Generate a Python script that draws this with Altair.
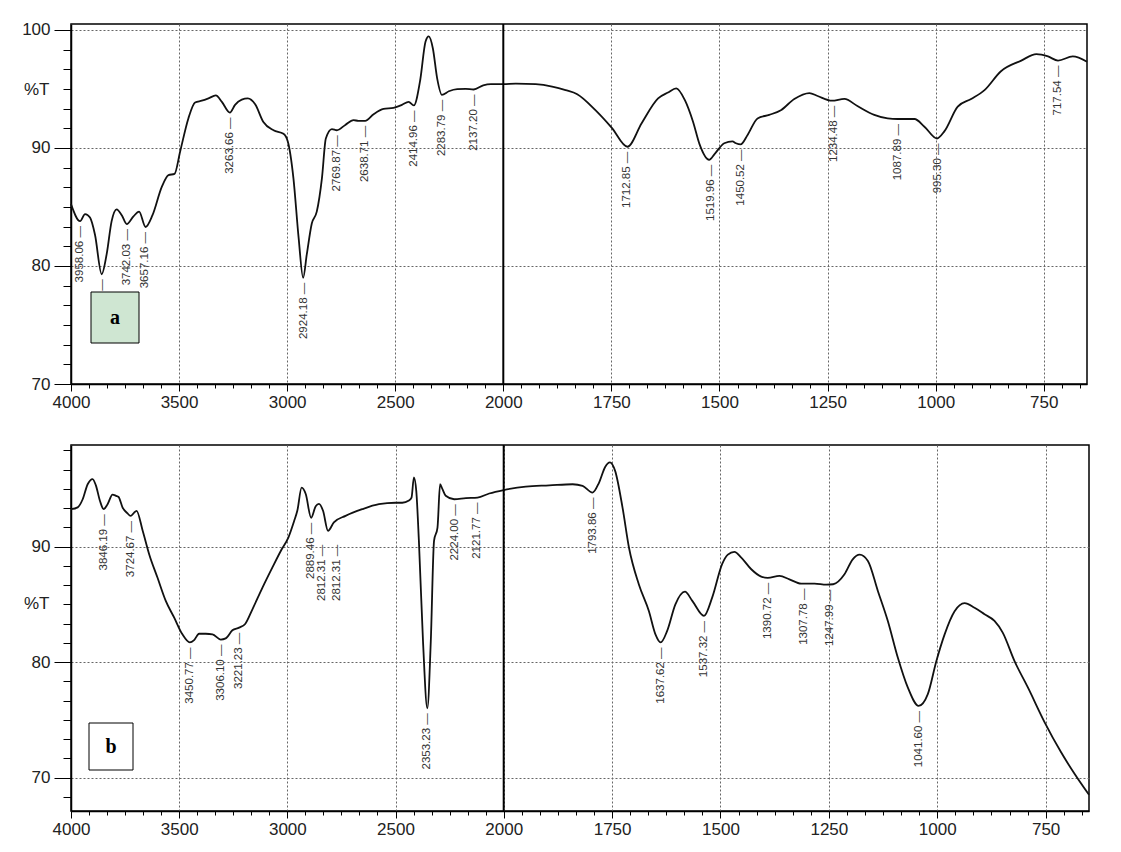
import altair as alt
import pandas as pd

# ---------------- data ----------------
top_wn = [4000, 3958, 3935, 3912, 3889, 3858, 3835, 3812, 3789, 3765, 3742, 3711, 3685, 3655,
          3623, 3580, 3549, 3521, 3495, 3457, 3426, 3395, 3364, 3330, 3302, 3265, 3241, 3210,
          3182, 3148, 3110, 3063, 3017, 2997, 2971, 2947, 2926, 2909, 2886, 2863, 2839, 2821,
          2793, 2770, 2731, 2693, 2670, 2639, 2600, 2554, 2508, 2469, 2438, 2414, 2384, 2360,
          2345, 2326, 2306, 2284, 2252, 2213, 2174, 2137, 2093, 2057, 2000, 1971, 1925, 1887,
          1856, 1829, 1787, 1749, 1713, 1680, 1642, 1619, 1600, 1580, 1561, 1546, 1524, 1511,
          1489, 1470, 1462, 1451, 1435, 1412, 1385, 1358, 1327, 1292, 1273, 1240, 1211, 1181,
          1142, 1111, 1088, 1049, 1026, 997, 980, 949, 918, 887, 849, 802, 767, 740, 717, 683, 650]
top_t = [85.25, 83.8, 84.4, 84.1, 82.65, 79.3, 81.0, 83.8, 84.8, 84.3, 83.55, 84.2, 84.6, 83.3,
         84.3, 86.7, 87.7, 87.8, 89.7, 92.5, 93.85, 94.0, 94.2, 94.45, 93.9, 93.0, 93.65, 94.1,
         94.2, 93.7, 92.2, 91.5, 91.2, 90.55, 87.45, 82.4, 79.0, 81.0, 83.6, 84.6, 87.45, 90.8,
         91.6, 91.5, 91.95, 92.35, 92.3, 92.3, 92.85, 93.3, 93.4, 93.65, 93.9, 93.6, 95.8, 99.0,
         99.45, 98.45, 95.9, 94.5, 94.8, 94.98, 95.0, 94.95, 95.3, 95.4, 95.4, 95.45, 95.4, 95.2,
         94.9, 94.55, 93.2, 91.7, 90.1, 92.1, 94.2, 94.7, 95.05, 94.05, 92.2, 90.3, 89.0, 89.5,
         90.4, 90.55, 90.4, 90.3, 91.1, 92.5, 92.8, 93.2, 94.15, 94.65, 94.4, 94.0, 94.15, 93.55,
         92.8, 92.5, 92.45, 92.45, 91.8, 90.8, 91.4, 93.5, 94.15, 94.9, 96.5, 97.4, 97.95, 97.75,
         97.4, 97.75, 97.3]

bot_wn = [4000, 3969, 3946, 3923, 3900, 3885, 3866, 3849, 3831, 3808, 3792, 3780, 3762, 3740,
          3724, 3710, 3697, 3669, 3638, 3600, 3562, 3523, 3485, 3451, 3431, 3408, 3377, 3346,
          3308, 3285, 3254, 3223, 3195, 3162, 3115, 3069, 3031, 2995, 2969, 2954, 2934, 2915,
          2890, 2869, 2854, 2835, 2812, 2785, 2731, 2654, 2577, 2500, 2469, 2438, 2426, 2415,
          2404, 2392, 2373, 2353, 2337, 2322, 2306, 2294, 2283, 2268, 2229, 2175, 2121, 2067,
          2000, 1949, 1895, 1841, 1818, 1795, 1780, 1766, 1755, 1743, 1726, 1711, 1688, 1665,
          1650, 1638, 1623, 1604, 1582, 1565, 1538, 1519, 1496, 1483, 1468, 1452, 1429, 1406,
          1391, 1364, 1341, 1314, 1283, 1256, 1240, 1214, 1195, 1179, 1160, 1137, 1114, 1091,
          1068, 1043, 1022, 1002, 983, 960, 937, 914, 891, 868, 849, 822, 791, 752, 714, 683, 650]
bot_t = [93.24, 93.4, 94.1, 95.4, 95.85, 95.3, 93.95, 93.24, 93.67, 94.5, 94.4, 94.3, 93.4, 92.9,
         92.66, 92.9, 93.1, 91.4, 89.3, 87.3, 85.3, 83.85, 82.4, 81.7, 81.9, 82.45, 82.45, 82.4,
         81.95, 82.05, 82.75, 82.98, 83.3, 84.55, 86.45, 88.2, 89.6, 90.8, 92.2, 93.1, 95.1, 94.55,
         92.5, 93.5, 93.7, 93.1, 91.36, 92.1, 92.66, 93.24, 93.67, 93.8, 93.8, 94.0, 94.25, 96.0,
         94.8, 90.5, 81.8, 76.0, 81.8, 90.5, 91.65, 95.4, 94.97, 94.4, 94.1, 94.2, 94.25, 94.6,
         94.9, 95.2, 95.3, 95.4, 95.26, 94.68, 95.55, 96.9, 97.3, 96.56, 93.4, 89.9, 86.7, 84.4,
         82.4, 81.7, 82.7, 85.0, 86.1, 85.3, 84.0, 85.6, 88.5, 89.3, 89.55, 89.05, 88.04, 87.4,
         87.3, 87.46, 87.17, 86.8, 86.8, 86.7, 86.74, 87.6, 88.9, 89.3, 88.76, 86.16, 83.56, 80.39,
         77.8, 76.2, 77.2, 80.1, 82.4, 84.4, 85.1, 84.7, 84.14, 83.56, 82.55, 80.1, 77.8, 74.76,
         72.16, 70.3, 68.5]

top_peak_text = ["3958.06", "", "3742.03", "3657.16", "3263.66", "2924.18", "2769.87", "2638.71",
                 "2414.96", "2283.79", "2137.20", "1712.85", "1519.96", "1450.52", "1234.48",
                 "1087.89", "995.30", "717.54"]
top_peak_wn = [3958.06, 3858, 3742.03, 3657.16, 3263.66, 2924.18, 2769.87, 2638.71,
               2414.96, 2283.79, 2137.20, 1712.85, 1519.96, 1450.52, 1234.48,
               1087.89, 995.30, 717.54]
top_peak_t = [83.8, 79.3, 83.55, 83.3, 93.0, 79.0, 91.5, 92.3,
              93.6, 94.5, 94.95, 90.1, 89.0, 90.3, 94.0,
              92.45, 90.8, 97.4]

bot_peak_text = ["3846.19", "3724.67", "3450.77", "3306.10", "3221.23", "2889.46", "2812.31",
                 "2812.31", "2353.23", "2224.00", "2121.77", "1793.86", "1637.62", "1537.32",
                 "1390.72", "1307.78", "1247.99", "1041.60"]
bot_peak_wn = [3846.19, 3724.67, 3450.77, 3306.10, 3221.23, 2889.46, 2838,
               2769, 2353.23, 2224.00, 2121.77, 1793.86, 1637.62, 1537.32,
               1390.72, 1307.78, 1247.99, 1041.60]
bot_peak_t = [93.24, 92.66, 81.7, 81.95, 82.98, 92.5, 90.6,
              90.6, 76.0, 94.1, 94.25, 94.68, 81.7, 84.0,
              87.3, 86.8, 86.7, 76.2]

x_major = [4000, 3500, 3000, 2500, 2000, 1750, 1500, 1250, 1000, 750]
top_y_major = [70, 80, 90, 100]
bot_y_major = [70, 80, 90]

# ---------------- helpers ----------------
FONT = "Liberation Sans"
x_ticks = [round(4000 - k * 500 / 6, 2) for k in range(0, 25)] + \
          [round(2000 - k * 250 / 6, 2) for k in range(1, 33)]
x_test = "indexof([" + ",".join(str(v) for v in x_major) + "], datum.value) >= 0"
y_test = "datum.value % 10 === 0"


def panel(wn, t, pk_text, pk_wn, pk_t, width, height, x2000, ydom, ykmin, ykmax,
          title_y, box_fill, letter, box):
    df = pd.DataFrame({"wn": wn, "T": t})
    pk = pd.DataFrame({"wn": pk_wn, "T": pk_t,
                       "label": [(s + " \u2014") if s else "\u2014" for s in pk_text]})
    one = pd.DataFrame({"v": [0]})

    xscale = alt.Scale(domain=[4000, 2000, 650], range=[0, x2000, width], nice=False, zero=False)
    yscale = alt.Scale(domain=ydom, nice=False, zero=False)
    y_ticks = [round(70 + k * 10 / 6, 4) for k in range(ykmin, ykmax + 1)]

    xaxis = alt.Axis(values=x_ticks, tickCount=500, format="d",
                     labelExpr=f"{x_test} ? datum.label : ''",
                     tickSize={"condition": {"test": x_test, "value": 7}, "value": 4},
                     gridOpacity={"condition": {"test": x_test, "value": 1}, "value": 0},
                     grid=True, gridColor="#666", gridDash=[2, 2], gridWidth=1,
                     title=None, labelFont=FONT, labelFontSize=17, labelColor="#222",
                     labelPadding=3, labelOverlap=False, labelFlush=False,
                     domainColor="black", domainWidth=1.5, tickColor="black", tickWidth=1)
    yaxis = alt.Axis(values=y_ticks, tickCount=500, format="d",
                     labelExpr=f"{y_test} ? datum.label : ''",
                     tickSize={"condition": {"test": y_test, "value": 17}, "value": 8},
                     gridOpacity={"condition": {"test": y_test, "value": 1}, "value": 0},
                     grid=True, gridColor="#666", gridDash=[2, 2], gridWidth=1,
                     title="%T", titleAngle=0, titleAlign="right", titleBaseline="middle",
                     titleX=-22, titleY=title_y, titleFont=FONT, titleFontSize=17,
                     titleFontWeight="normal", titleColor="#222",
                     labelFont=FONT, labelFontSize=17, labelColor="#222",
                     labelPadding=4, labelOverlap=False, labelFlush=False,
                     domainColor="black", domainWidth=1.5, tickColor="black", tickWidth=1)

    line = alt.Chart(df).mark_line(color="#111", strokeWidth=1.8, interpolate="monotone").encode(
        x=alt.X("wn:Q", scale=xscale, axis=xaxis),
        y=alt.Y("T:Q", scale=yscale, axis=yaxis),
    )
    labels = alt.Chart(pk).mark_text(angle=270, align="right", baseline="middle",
                                     fontSize=11.5, font=FONT, color="#333", yOffset=5).encode(
        x="wn:Q", y="T:Q", text="label:N")
    brk = alt.Chart(one).mark_rule(color="black", strokeWidth=2).encode(x=alt.datum(2000))
    rect = alt.Chart(one).mark_rect(fill=box_fill, stroke="black", strokeWidth=1).encode(
        x=alt.value(box[0]), x2=alt.value(box[1]), y=alt.value(box[2]), y2=alt.value(box[3]))
    txt = alt.Chart(one).mark_text(font="Liberation Serif", fontWeight="bold", fontSize=20,
                                   color="black", baseline="middle", align="center").encode(
        x=alt.value((box[0] + box[1]) / 2), y=alt.value((box[2] + box[3]) / 2),
        text=alt.value(letter))
    return alt.layer(line, labels, brk, rect, txt).properties(width=width, height=height)


top = panel(top_wn, top_t, top_peak_text, top_peak_wn, top_peak_t,
            1016, 360, 432.3, [70, 100.5], 0, 18, 65, "#cfe6d2", "a", (20, 68, 268, 319))
bottom = panel(bot_wn, bot_t, bot_peak_text, bot_peak_wn, bot_peak_t,
               1018, 366, 432.7, [67.1, 98.8], -1, 17, 158, "white", "b", (18, 62, 278, 325))

chart = alt.vconcat(top, bottom, spacing=29).properties(
    padding={"left": 12, "top": 12, "right": 5, "bottom": 5},
    background="white",
).configure_view(stroke="black", strokeWidth=1.5)

chart.save("out.html", embed_options={"renderer": "svg", "actions": False})
